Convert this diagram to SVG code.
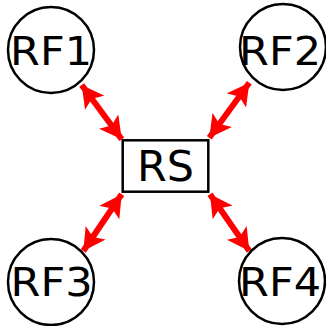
<svg xmlns="http://www.w3.org/2000/svg" width="326" height="326" viewBox="0 0 326 326">
<style>
.node circle, .node rect { fill: #ffffff; stroke: #000000; stroke-width: 2.5; }
.node text { font-family: "DejaVu Sans", sans-serif; fill: #000000; text-anchor: middle; }
.rf { font-size: 39px; }
.rs { font-size: 42px; }
.conn line { stroke: #ff0000; stroke-width: 6; marker-start: url(#ah); marker-end: url(#ah); }
</style>
<defs>
<marker id="ah" viewBox="0 0 22 24" refX="22" refY="12" markerWidth="22" markerHeight="24" markerUnits="userSpaceOnUse" orient="auto-start-reverse">
<path d="M0,0 L22,12 L0,24 L5,12 z" fill="#ff0000"/>
</marker>
</defs>
<rect width="326" height="326" fill="#ffffff"/>
<g id="connectors" class="conn">
<line x1="81.7" y1="85" x2="121.7" y2="139.3"/>
<line x1="249.3" y1="82.7" x2="209.3" y2="137.7"/>
<line x1="121.7" y1="194.3" x2="83.3" y2="251"/>
<line x1="210" y1="194.3" x2="249.3" y2="251"/>
</g>
<g id="RF1" class="node">
<circle cx="51" cy="50" r="43"/>
<text class="rf" x="51" y="65" textLength="82" lengthAdjust="spacingAndGlyphs">RF1</text>
</g>
<g id="RF2" class="node">
<circle cx="283" cy="47" r="43"/>
<text class="rf" x="280" y="65" textLength="82" lengthAdjust="spacingAndGlyphs">RF2</text>
</g>
<g id="RF3" class="node">
<circle cx="51" cy="282" r="43"/>
<text class="rf" x="51.5" y="296" textLength="82" lengthAdjust="spacingAndGlyphs">RF3</text>
</g>
<g id="RF4" class="node">
<circle cx="282" cy="281" r="43"/>
<text class="rf" x="280" y="296" textLength="82" lengthAdjust="spacingAndGlyphs">RF4</text>
</g>
<g id="RS" class="node">
<rect x="122.7" y="140.3" width="85.6" height="51.4"/>
<text class="rs" x="165.5" y="181" textLength="57" lengthAdjust="spacingAndGlyphs">RS</text>
</g>
</svg>
